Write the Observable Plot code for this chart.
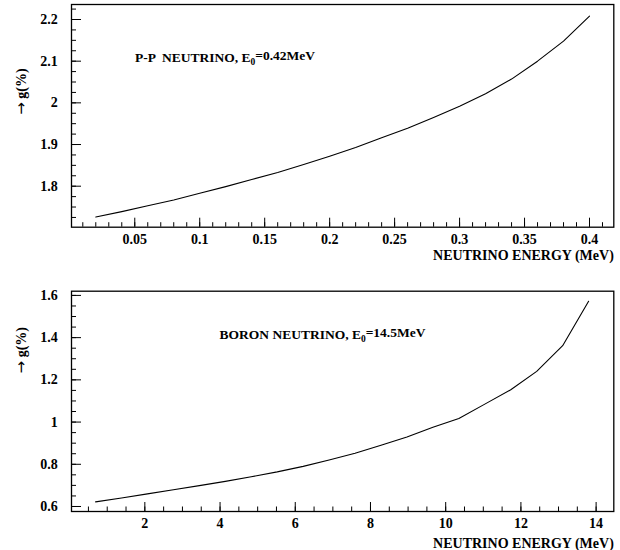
<!DOCTYPE html>
<html>
<head>
<meta charset="utf-8">
<script src="https://cdn.jsdelivr.net/npm/d3@7"></script>
<script src="https://cdn.jsdelivr.net/npm/@observablehq/plot@0.6"></script>
<style>
  body { margin: 0; background: #fff; }
  #chart svg { display: block; }
  #chart svg text { font-family: "Liberation Serif", "Times New Roman", serif; }
  #chart svg tspan.arrow { font-family: "DejaVu Sans", sans-serif; }
</style>
</head>
<body>
<div id="chart"></div>
<script>
// ---- P-P neutrino panel ----
const ppEnergy = [0.02, 0.04, 0.06, 0.08, 0.10, 0.12, 0.14, 0.16, 0.18, 0.20,
                  0.22, 0.24, 0.26, 0.28, 0.30, 0.32, 0.34, 0.36, 0.38, 0.40];
const ppG      = [1.726, 1.739, 1.753, 1.767, 1.783, 1.799, 1.816, 1.833, 1.852, 1.872,
                  1.893, 1.916, 1.939, 1.965, 1.992, 2.022, 2.057, 2.100, 2.148, 2.208];
const ppXTicks = [0.05, 0.1, 0.15, 0.2, 0.25, 0.3, 0.35, 0.4];
const ppXTickLabels = ["0.05", "0.1", "0.15", "0.2", "0.25", "0.3", "0.35", "0.4"];
const ppYTicks = [1.8, 1.9, 2.0, 2.1, 2.2];
const ppYTickLabels = ["1.8", "1.9", "2", "2.1", "2.2"];
const ppLabel = "P-P  NEUTRINO, E0=0.42MeV";

// ---- Boron neutrino panel ----
const boronEnergy = [0.69, 1.38, 2.07, 2.76, 3.45, 4.14, 4.83, 5.52, 6.21, 6.90,
                     7.59, 8.28, 8.97, 9.66, 10.35, 11.04, 11.73, 12.42, 13.11, 13.80];
const boronG      = [0.622, 0.640, 0.660, 0.679, 0.699, 0.719, 0.741, 0.764, 0.790, 0.820,
                     0.852, 0.890, 0.929, 0.975, 1.017, 1.085, 1.153, 1.240, 1.362, 1.572];
const boronXTicks = [2, 4, 6, 8, 10, 12, 14];
const boronXTickLabels = ["2", "4", "6", "8", "10", "12", "14"];
const boronYTicks = [0.6, 0.8, 1.0, 1.2, 1.4, 1.6];
const boronYTickLabels = ["0.6", "0.8", "1", "1.2", "1.4", "1.6"];
const boronLabel = "BORON NEUTRINO, E0=14.5MeV";

const xTitle = "NEUTRINO ENERGY (MeV)";
const yTitle = "\u2192 g(%)";

function panel(o) {
  const data = o.xs.map((x, i) => ({energy: x, g: o.ys[i]}));
  const fmt = (ticks, labels) => d => labels[ticks.indexOf(d)];
  const svg = Plot.plot({
    width: 620,
    height: o.height,
    marginLeft: 71,
    marginRight: 6.7,
    marginTop: o.marginTop,
    marginBottom: o.marginBottom,
    style: {
      fontFamily: "'Liberation Serif', 'Times New Roman', serif",
      fontWeight: "bold",
      fontSize: "13.5px",
      color: "black",
      background: "white"
    },
    x: {domain: o.xDomain, label: null},
    y: {domain: o.yDomain, label: null},
    marks: [
      Plot.axisX(o.xMinor, {tickSize: -4.5, tickFormat: () => "", label: null}),
      Plot.axisX(o.xTicks, {tickSize: -9, tickFormat: () => "", label: null}),
      Plot.axisX(o.xTicks, {tickSize: 0, tickPadding: o.xLabelPad, lineAnchor: "middle",
                            tickFormat: fmt(o.xTicks, o.xTickLabels), label: null, fontSize: 14}),
      Plot.axisY(o.yMinor, {tickSize: -5, tickFormat: () => "", label: null}),
      Plot.axisY(o.yTicks, {tickSize: -10, tickFormat: () => "", label: null}),
      Plot.axisY(o.yTicks, {tickSize: 0, tickPadding: 13.7,
                            tickFormat: fmt(o.yTicks, o.yTickLabels), label: null, fontSize: 14}),
      Plot.frame({strokeWidth: 1.3}),
      Plot.line(data, {x: "energy", y: "g", stroke: "black", strokeWidth: 1.1}),
      Plot.text([o.label], {frameAnchor: "top-left", textAnchor: "start", lineAnchor: "middle",
                            dx: o.labelDx, dy: o.labelDy, fontSize: 13.5}),
      Plot.text([xTitle], {frameAnchor: "bottom-right", textAnchor: "end", lineAnchor: "middle",
                           dy: o.xTitleDy, fontSize: 14}),
      Plot.text([yTitle], {frameAnchor: "top-left", textAnchor: "middle", rotate: -90,
                           lineAnchor: "middle", dx: -50.3, dy: o.yTitleDy, fontSize: 14})
    ]
  });
  d3.select(svg).selectAll("text").each(function () {
    const t = this.textContent;
    const sel = d3.select(this);
    // subscript the 0 in E0
    const m = t.match(/^(.*E)0(=.*)$/);
    if (m) {
      sel.text(null);
      sel.append("tspan").text(m[1]);
      sel.append("tspan").attr("dy", "0.35em").attr("font-size", "9.5px").text("0");
      sel.append("tspan").attr("dy", "-0.35em").text(m[2]);
    }
    // enlarge the arrow of the y title
    if (t === yTitle) {
      sel.text(null);
      sel.append("tspan").attr("class", "arrow").attr("font-size", "15px")
        .attr("font-weight", "normal").text("\u2192");
      sel.append("tspan").text(" g(%)");
    }
  });
  return svg;
}

const ppPanel = panel({
  xs: ppEnergy, ys: ppG, height: 275, marginTop: 4, marginBottom: 48.3,
  xDomain: [0.0013, 0.4187], yDomain: [1.7016, 2.236],
  xTicks: ppXTicks, xTickLabels: ppXTickLabels, xMinor: d3.range(0.01, 0.415, 0.01),
  yTicks: ppYTicks, yTickLabels: ppYTickLabels, yMinor: d3.range(1.725, 2.23, 0.025),
  xLabelPad: 12.6, label: ppLabel, labelDx: 63.5, labelDy: 53,
  xTitleDy: 28, yTitleDy: 87
});
const boronPanel = panel({
  xs: boronEnergy, ys: boronG, height: 275, marginTop: 15.7, marginBottom: 39,
  xDomain: [0.05, 14.47], yDomain: [0.5763, 1.620],
  xTicks: boronXTicks, xTickLabels: boronXTickLabels, xMinor: d3.range(0.5, 14.4, 0.5),
  yTicks: boronYTicks, yTickLabels: boronYTickLabels, yMinor: d3.range(0.6, 1.62, 0.05),
  xLabelPad: 12.3, label: boronLabel, labelDx: 148, labelDy: 43.3,
  xTitleDy: 32.3, yTitleDy: 59
});
document.getElementById("chart").append(ppPanel, boronPanel);
</script>
</body>
</html>
